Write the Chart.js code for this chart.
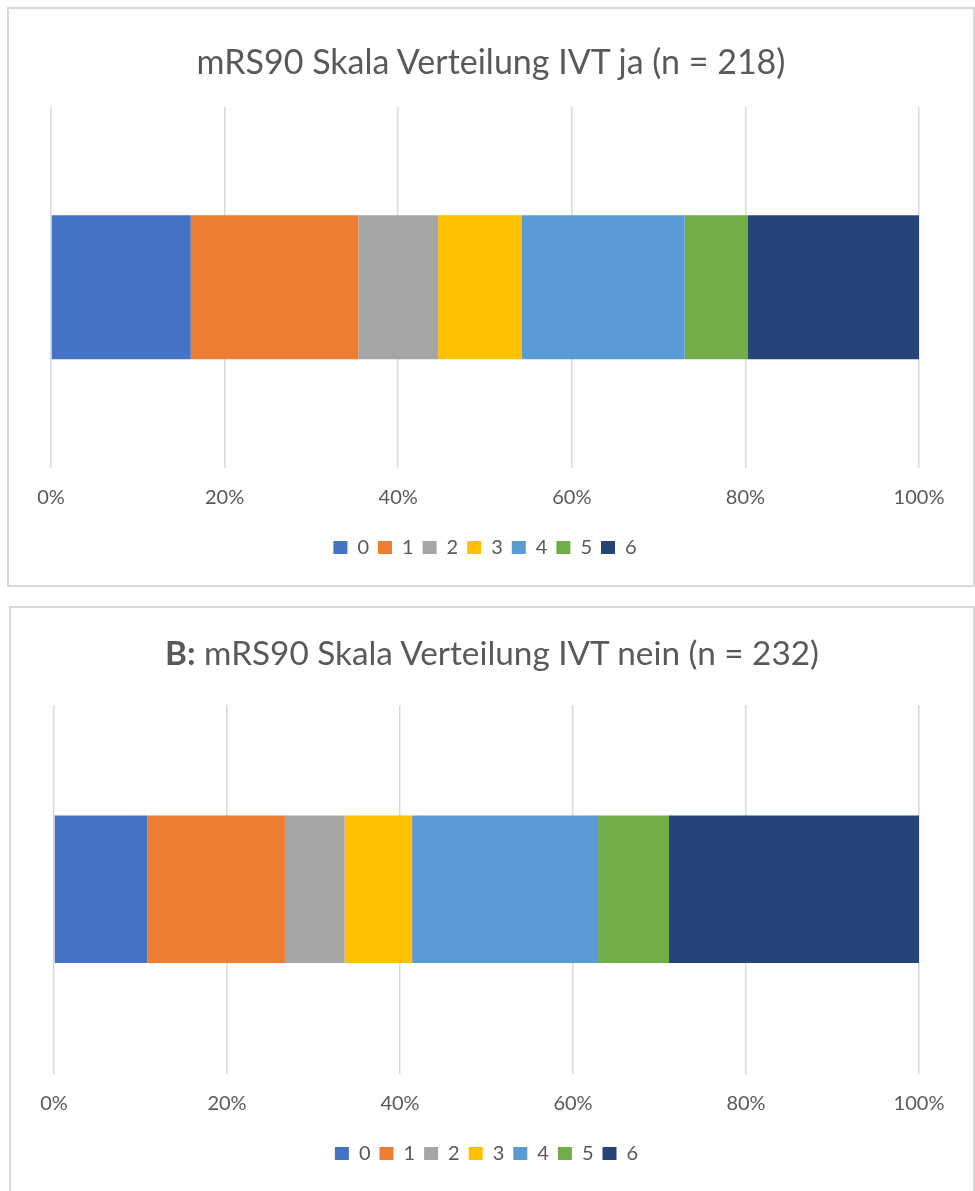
<!DOCTYPE html>
<html>
<head>
<meta charset="utf-8">
<script src="https://cdn.jsdelivr.net/npm/chart.js@4/dist/chart.umd.min.js"></script>
<style>
    html, body { margin: 0; padding: 0; background: #fff; overflow: hidden; }
    body { font-family: Lato, "Open Sans", sans-serif; }
    .panel { position: absolute; border: 2px solid #d9d9d9; box-sizing: border-box; background: #fff; }
    #p1 { left: 7px; top: 7px; width: 968px; height: 580px; }
    #p2 { left: 9px; top: 606px; width: 966px; height: 600px; }
    .title { position: absolute; left: 0; right: 0; text-align: center; color: #595959;
             font-size: 34px; line-height: 40px; white-space: nowrap; }
    #t1 { top: 32px; }
    #t2 { top: 24px; font-size: 33.3px; }
    canvas { position: absolute; left: 0; top: 0; }
</style>
</head>
<body>
<div class="panel" id="p1">
    <canvas id="chart1" width="964" height="576"></canvas>
    <div class="title" id="t1">mRS90 Skala Verteilung IVT ja (n = 218)</div>
</div>
<div class="panel" id="p2">
    <canvas id="chart2" width="962" height="596"></canvas>
    <div class="title" id="t2"><b>B:</b> mRS90 Skala Verteilung IVT nein (n = 232)</div>
</div>
<script>
// mRS Skala 0..6, Anteil in %
const mrsCategories = ['0', '1', '2', '3', '4', '5', '6'];
const ivtJa = [16.1, 19.3, 9.2, 9.6, 18.8, 7.3, 19.7];
const ivtNein = [10.8, 15.9, 6.9, 7.8, 21.5, 8.2, 28.9];
const tickLabels = ['0%', '20%', '40%', '60%', '80%', '100%'];
const colors = ['#4472C4', '#ED7D31', '#A5A5A5', '#FFC000', '#5B9BD5', '#70AD47', '#264478'];

const textColor = '#595959';
const fontFamily = 'Lato, "Open Sans", sans-serif';

function makeChart(canvasId, values, pad) {
    const ctx = document.getElementById(canvasId).getContext('2d');
    return new Chart(ctx, {
        type: 'bar',
        data: {
            labels: [''],
            datasets: mrsCategories.map(function(cat, i) {
                return {
                    label: cat,
                    data: [values[i]],
                    backgroundColor: colors[i],
                    borderWidth: 0,
                    categoryPercentage: 1,
                    barPercentage: 0.4
                };
            })
        },
        options: {
            indexAxis: 'y',
            responsive: false,
            animation: false,
            layout: { padding: pad },
            scales: {
                x: {
                    stacked: true,
                    min: 0,
                    max: 100,
                    border: { display: false },
                    grid: { color: '#d9d9d9', lineWidth: 1.5, drawTicks: false },
                    ticks: {
                        stepSize: 20,
                        padding: 18,
                        color: textColor,
                        font: { family: fontFamily, size: 20 },
                        callback: function(v, idx) { return tickLabels[idx]; }
                    },
                    afterFit: function(scale) { scale.height += 1; }
                },
                y: { stacked: true, display: false }
            },
            plugins: {
                title: { display: false },
                tooltip: { enabled: false },
                legend: {
                    position: 'bottom',
                    labels: {
                        boxWidth: 14,
                        boxHeight: 13,
                        padding: 9,
                        color: textColor,
                        font: { family: fontFamily, size: 20 }
                    }
                }
            }
        }
    });
}

makeChart('chart1', ivtJa, { left: 42, right: 54, top: 98, bottom: 17.5 });
makeChart('chart2', ivtNein, { left: 43, right: 54, top: 97, bottom: 30.5 });
</script>
</body>
</html>
